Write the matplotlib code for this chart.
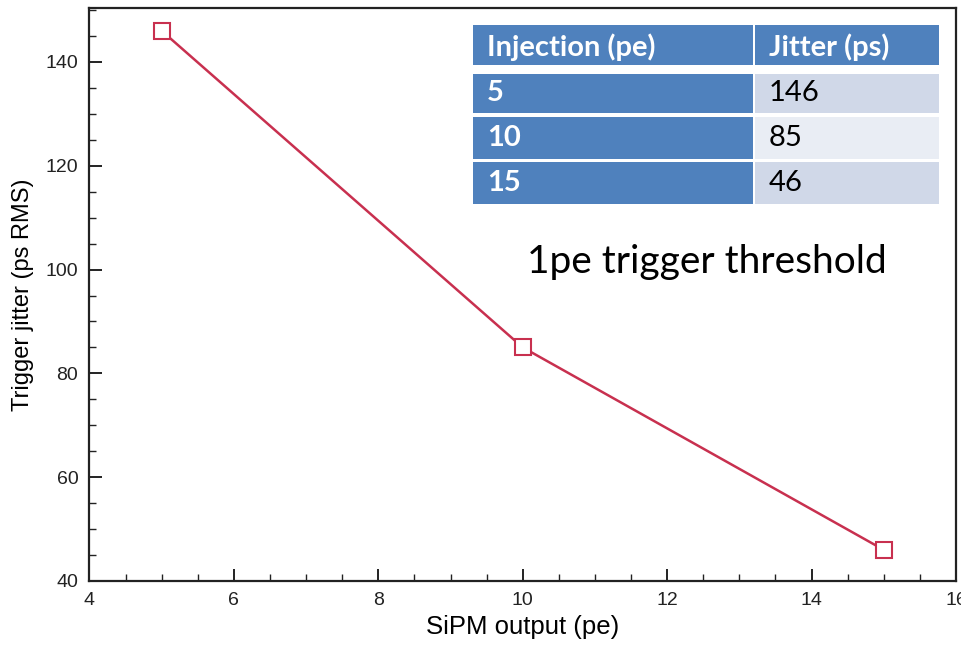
import matplotlib.pyplot as plt
from matplotlib.patches import Rectangle
from matplotlib.ticker import MultipleLocator

# measured trigger jitter vs SiPM output
sipm_pe = [5, 10, 15]
jitter_ps = [146, 85, 46]

table_header = ["Injection (pe)", "Jitter (ps)"]
table_injection = ["5", "10", "15"]
table_jitter = ["146", "85", "46"]

line_color = "#C8304F"
blue = "#4F81BD"
light_rows = ["#D0D8E8", "#E9EDF4", "#D0D8E8"]

fig = plt.figure(figsize=(9.61, 6.48), dpi=100)
ax = fig.add_axes([0.0931, 0.1034, 0.9017, 0.8843])

ax.plot(sipm_pe, jitter_ps, color=line_color, linewidth=1.8, marker="s",
        markersize=11, markerfacecolor="white", markeredgecolor=line_color,
        markeredgewidth=1.5, clip_on=False, zorder=3)

ax.set_xlim(4, 16)
ax.set_ylim(40, 150.4)
ax.xaxis.set_major_locator(MultipleLocator(2))
ax.xaxis.set_minor_locator(MultipleLocator(0.5))
ax.yaxis.set_major_locator(MultipleLocator(20))
ax.yaxis.set_minor_locator(MultipleLocator(5))
ax.tick_params(which="both", direction="in", top=False, right=False,
               labelsize=14, colors="#222222")
ax.tick_params(which="major", length=9, width=1.4, pad=8)
ax.tick_params(which="minor", length=5, width=1.0)
for s in ax.spines.values():
    s.set_linewidth(1.6)
    s.set_color("#222222")

ax.set_xlabel("SiPM output (pe)", fontsize=18.5, family="Liberation Sans", labelpad=4)
ax.set_ylabel("Trigger jitter (ps RMS)", fontsize=17, family="Liberation Sans", labelpad=8)
for lab in ax.get_xticklabels() + ax.get_yticklabels():
    lab.set_family("Liberation Sans")

# summary table drawn in axes coordinates
x0, xs, x1 = 0.4426, 0.7655, 0.9808
xs2 = 0.7677
rows = [(0.9703, 0.9005), (0.8856, 0.8168), (0.8098, 0.7365), (0.7318, 0.6580)]
tfont = "Lato"
tsize = 21

def cell(xa, xb, ya, yb, color):
    ax.add_patch(Rectangle((xa, yb), xb - xa, ya - yb, transform=ax.transAxes,
                           facecolor=color, edgecolor="none", clip_on=False, zorder=4))

ya, yb = rows[0]
cell(x0, xs, ya, yb, blue)
cell(xs2, x1, ya, yb, blue)
ax.text(x0 + 0.016, (ya + yb) / 2 - 0.003, table_header[0], transform=ax.transAxes,
        color="white", fontsize=tsize, fontweight="bold", family=tfont,
        va="center", ha="left", zorder=5)
ax.text(xs2 + 0.016, (ya + yb) / 2 - 0.003, table_header[1], transform=ax.transAxes,
        color="white", fontsize=tsize, fontweight="bold", family=tfont,
        va="center", ha="left", zorder=5)

for (ya, yb), inj, jit, bg in zip(rows[1:], table_injection, table_jitter, light_rows):
    cell(x0, xs, ya, yb, blue)
    cell(xs2, x1, ya, yb, bg)
    ax.text(x0 + 0.016, (ya + yb) / 2, inj, transform=ax.transAxes,
            color="white", fontsize=tsize, fontweight="bold", family=tfont,
            va="center", ha="left", zorder=5)
    ax.text(xs2 + 0.016, (ya + yb) / 2, jit, transform=ax.transAxes,
            color="black", fontsize=tsize, family=tfont,
            va="center", ha="left", zorder=5)

ax.text(0.505, 0.556, "1pe trigger threshold", transform=ax.transAxes,
        fontsize=28, family=tfont, color="black", va="center", ha="left")

fig.savefig("out.png", dpi=100)
